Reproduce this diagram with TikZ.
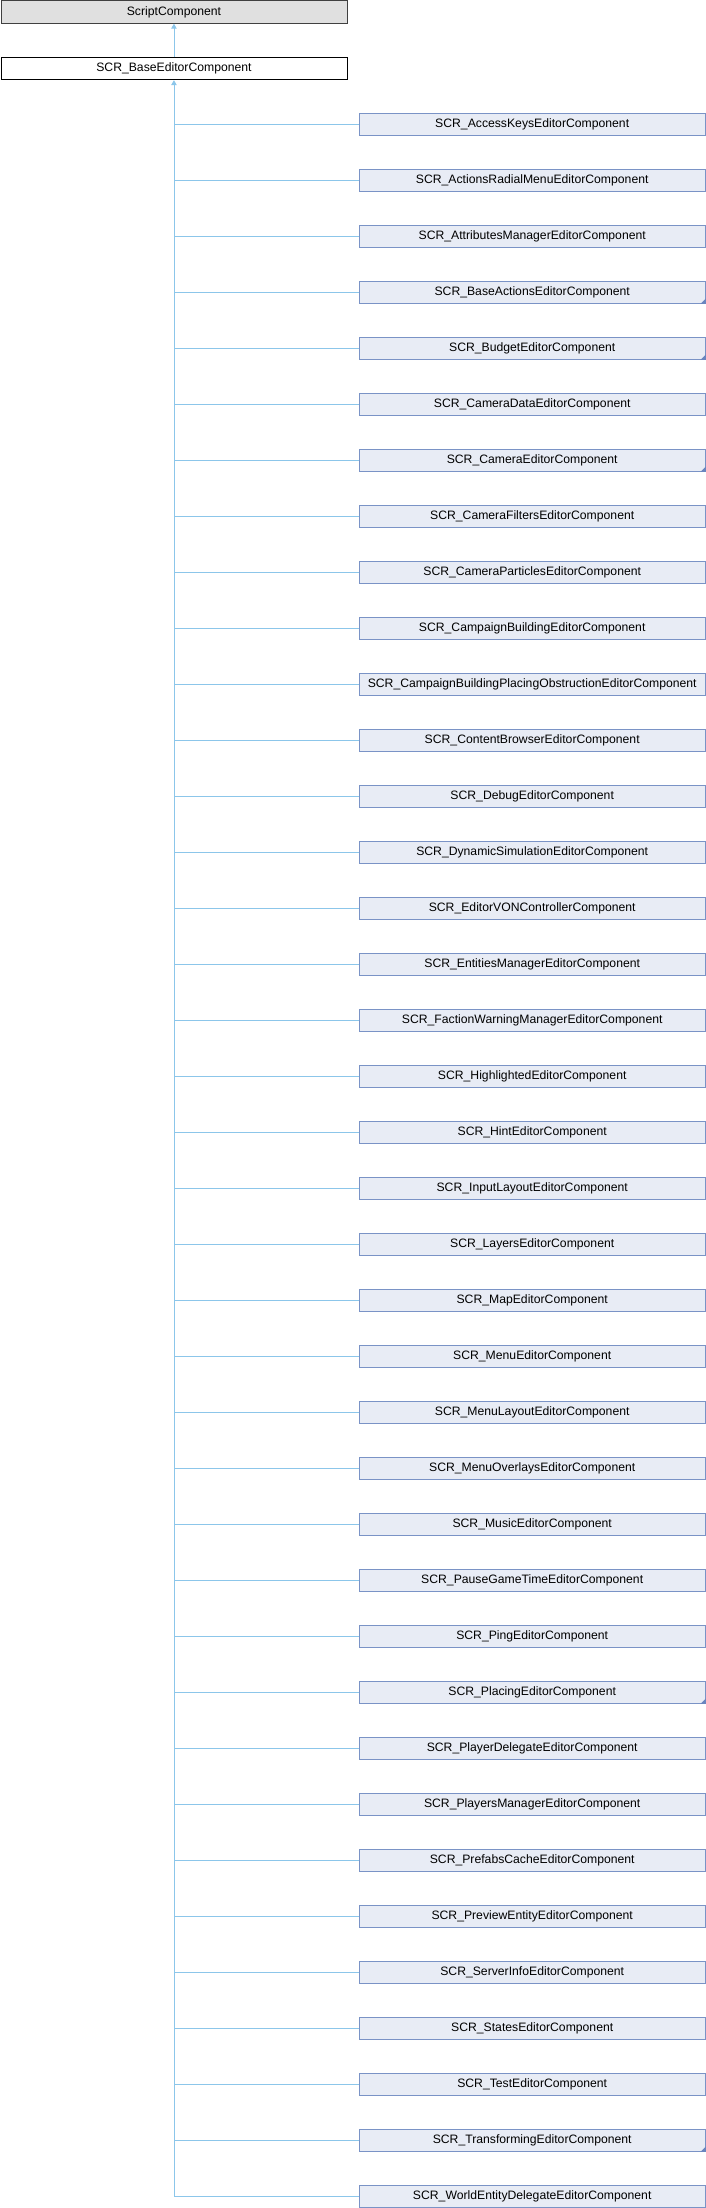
\documentclass[tikz,border=0pt]{standalone}
\usepackage{fontspec}
\setmainfont{Liberation Sans}
\usetikzlibrary{arrows.meta}
\definecolor{edgecol}{HTML}{8CC6EA}
\definecolor{boxfill}{HTML}{E8ECF5}
\definecolor{boxborder}{HTML}{7A93C6}
\definecolor{markcol}{HTML}{6A85BF}
\definecolor{grayfill}{HTML}{E0E0E0}
\begin{document}
\begin{tikzpicture}[x=1pt,y=-1pt,
  basebox/.style={inner sep=0pt, anchor=north west, minimum width=346pt, minimum height=22.3pt,
    font=\fontsize{12.2}{14}\selectfont, line width=0.9pt},
  graybox/.style={basebox, draw=black!75, fill=grayfill},
  curbox/.style={basebox, draw=black, fill=white},
  childbox/.style={basebox, draw=boxborder, fill=boxfill, minimum width=346.5pt},
  edgeline/.style={draw=edgecol, line width=0.9pt},
  tipup/.style={-{Triangle[width=5.5pt,length=5pt,fill=edgecol]}}]
\useasboundingbox (0,0) rectangle (706,2208);
\node[graybox] (sc) at (0.5,0.5) {ScriptComponent};
\node[curbox] (base) at (0.5,57) {SCR\_BaseEditorComponent};
\draw[edgeline,tipup] (base.north) -- (sc.south);
\foreach \n/\m [count=\i from 0] in {
SCR\_AccessKeysEditorComponent/0,
SCR\_ActionsRadialMenuEditorComponent/0,
SCR\_AttributesManagerEditorComponent/0,
SCR\_BaseActionsEditorComponent/1,
SCR\_BudgetEditorComponent/1,
SCR\_CameraDataEditorComponent/0,
SCR\_CameraEditorComponent/1,
SCR\_CameraFiltersEditorComponent/0,
SCR\_CameraParticlesEditorComponent/0,
SCR\_CampaignBuildingEditorComponent/0,
SCR\_CampaignBuildingPlacingObstructionEditorComponent/0,
SCR\_ContentBrowserEditorComponent/0,
SCR\_DebugEditorComponent/0,
SCR\_DynamicSimulationEditorComponent/0,
SCR\_EditorVONControllerComponent/0,
SCR\_EntitiesManagerEditorComponent/0,
SCR\_FactionWarningManagerEditorComponent/0,
SCR\_HighlightedEditorComponent/0,
SCR\_HintEditorComponent/0,
SCR\_InputLayoutEditorComponent/0,
SCR\_LayersEditorComponent/0,
SCR\_MapEditorComponent/0,
SCR\_MenuEditorComponent/0,
SCR\_MenuLayoutEditorComponent/0,
SCR\_MenuOverlaysEditorComponent/0,
SCR\_MusicEditorComponent/0,
SCR\_PauseGameTimeEditorComponent/0,
SCR\_PingEditorComponent/0,
SCR\_PlacingEditorComponent/1,
SCR\_PlayerDelegateEditorComponent/0,
SCR\_PlayersManagerEditorComponent/0,
SCR\_PrefabsCacheEditorComponent/0,
SCR\_PreviewEntityEditorComponent/0,
SCR\_ServerInfoEditorComponent/0,
SCR\_StatesEditorComponent/0,
SCR\_TestEditorComponent/0,
SCR\_TransformingEditorComponent/1,
SCR\_WorldEntityDelegateEditorComponent/0}{
  \node[childbox] (c\i) at (358.5,{112.7+56*\i}) {\n};
  \ifnum\m=1
    \fill[markcol] (c\i.south east) -- ++(-5.5,0) -- ++(5.5,-5.5) -- cycle;
  \fi
  \draw[edgeline] (c\i.west) -- (c\i.west -| base.south);
}
\draw[edgeline,tipup] (c37.west -| base.south) -- (base.south);
\end{tikzpicture}
\end{document}
